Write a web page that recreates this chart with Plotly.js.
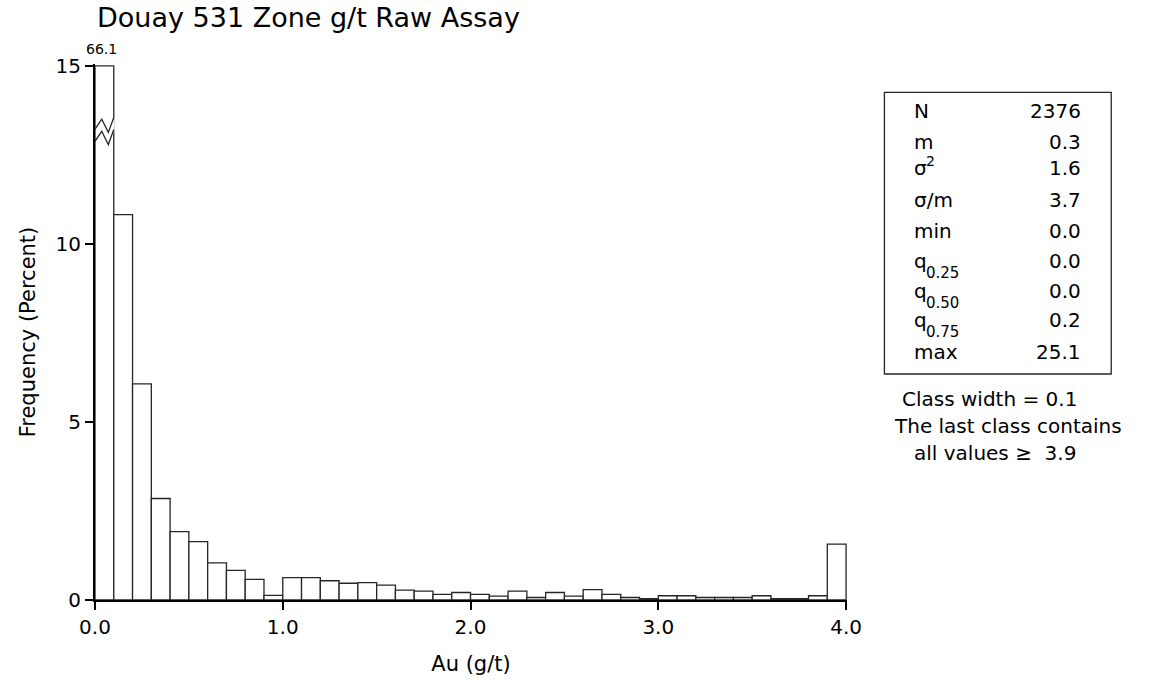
<!DOCTYPE html>
<html>
<head>
<meta charset="utf-8">
<script src="https://cdn.plot.ly/plotly-3.0.1.min.js"></script>
<style>html,body{margin:0;padding:0;background:#fff;}</style>
</head>
<body>
<div id="chart" style="width:1150px;height:683px;"></div>
<script>
// ---- data ----
const binStarts = [0.0,0.1,0.2,0.3,0.4,0.5,0.6,0.7,0.8,0.9,
                   1.0,1.1,1.2,1.3,1.4,1.5,1.6,1.7,1.8,1.9,
                   2.0,2.1,2.2,2.3,2.4,2.5,2.6,2.7,2.8,2.9,
                   3.0,3.1,3.2,3.3,3.4,3.5,3.6,3.7,3.8,3.9];
const freq = [66.1,10.82,6.07,2.85,1.92,1.64,1.04,0.83,0.58,0.13,
              0.63,0.63,0.54,0.47,0.49,0.42,0.28,0.25,0.16,0.21,
              0.16,0.11,0.25,0.07,0.21,0.11,0.29,0.16,0.07,0.04,
              0.12,0.12,0.07,0.07,0.07,0.12,0.04,0.04,0.12,1.57];
const binWidth = 0.1;
const yMax = 15;
const xTickVals = [0,1,2,3,4];
const xTickText = ['0.0','1.0','2.0','3.0','4.0'];
const yTickVals = [0,5,10,15];
const yTickText = ['0','5','10','15'];
const statLabels = ['N','m','σ','σ/m','min','q','q','q','max'];
const statSup    = ['','','2','','','','','',''];
const statSub    = ['','','','','','0.25','0.50','0.75',''];
const statValues = ['2376','0.3','1.6','3.7','0.0','0.0','0.0','0.2','25.1'];
const noteLines  = ['Class width = 0.1','The last class contains','all values ≥\u00a0 3.9'];
const titleText = 'Douay 531 Zone g/t Raw Assay';
const xTitle = 'Au (g/t)';
const yTitle = 'Frequency (Percent)';

// ---- layout helpers (pixel -> paper) ----
const FONT = 'DejaVu Sans';
const L = 95, T = 64, W = 751.6, H = 536;
const px = v => (v - L) / W;
const py = v => (T + H - v) / H;

const shown = freq.map(v => Math.min(v, yMax));
const centers = binStarts.map(s => s + binWidth / 2);

const bars = {
  type: 'bar', x: centers, y: shown, width: binWidth,
  marker: {color: '#ffffff', line: {color: '#262626', width: 1.3}},
  hoverinfo: 'skip', showlegend: false
};

// break symbol on clipped bar
const x0 = binStarts[0], x1 = binStarts[0] + binWidth;
const zig = [[0, 13.22], [0.36, 13.5], [0.71, 13.13], [1.0, 13.55]];
const gap = 0.34;
const up = zig.map(p => [x0 + p[0] * binWidth, p[1]]);
const lo = zig.map(p => [x0 + p[0] * binWidth, p[1] - gap]);
const pathOf = pts => 'M' + pts.map(p => p[0] + ',' + p[1]).join(' L');
const band = up.map((p, i) => [i === 0 ? p[0] + 0.008 : (i === up.length - 1 ? p[0] + 0.004 : p[0]), p[1] + 0.02])
  .concat(lo.slice().reverse().map((p, i) => [i === 0 ? p[0] + 0.004 : (i === lo.length - 1 ? p[0] + 0.008 : p[0]), p[1] - 0.02]));

const shapes = [
  {type: 'path', xref: 'x', yref: 'y', path: pathOf(band) + ' Z', fillcolor: '#ffffff', line: {width: 0}, layer: 'above'},
  {type: 'path', xref: 'x', yref: 'y', path: pathOf(up), line: {color: '#262626', width: 1.3}, layer: 'above'},
  {type: 'path', xref: 'x', yref: 'y', path: pathOf(lo), line: {color: '#262626', width: 1.3}, layer: 'above'},
  {type: 'rect', xref: 'paper', yref: 'paper', x0: px(884), x1: px(1110.7), y0: py(374), y1: py(92.3),
   line: {color: '#262626', width: 1.3}, fillcolor: 'rgba(0,0,0,0)'}
];

const rowBase = [118, 148.5, 175, 207.5, 238, 268, 297.5, 327, 358.5];
const ann = [];
const txt = (text, x, y, xa, size, extra) => Object.assign({
  text: text, x: x, y: y, xref: 'paper', yref: 'paper', xanchor: xa, yanchor: 'middle',
  showarrow: false, font: {family: FONT, size: size, color: '#000'}, borderpad: 0
}, extra || {});

statLabels.forEach((lab, i) => {
  const b = rowBase[i];
  ann.push(txt(lab, px(913), py(b - 7), 'left', 20));
  ann.push(txt(statValues[i], px(1081), py(b - 7), 'right', 20));
  if (statSup[i]) ann.push(txt(statSup[i], px(925), py(b - 14), 'left', 14));
  if (statSub[i]) ann.push(txt(statSub[i], px(925), py(b + 5), 'left', 15));
});
const noteX = [901, 893, 913], noteY = [398.8, 425.7, 452.6];
noteLines.forEach((t, i) => ann.push(txt(t, px(noteX[i]), py(noteY[i]), 'left', 20)));

// value of clipped bar
ann.push({text: freq[0].toFixed(1), x: centers[0], y: yMax, xref: 'x', yref: 'y',
  xanchor: 'center', yanchor: 'bottom', yshift: 7, xshift: -3, showarrow: false,
  font: {family: FONT, size: 14, color: '#000'}});

const layout = {
  width: 1150, height: 683,
  margin: {l: L, r: 1150 - L - W, t: T, b: 683 - T - H, pad: 0},
  paper_bgcolor: '#fff', plot_bgcolor: '#fff',
  font: {family: FONT, color: '#000'},
  bargap: 0, showlegend: false,
  title: {text: titleText, x: 97 / 1150, xref: 'container', xanchor: 'left',
          y: 1 - 18 / 683, yref: 'container', yanchor: 'middle',
          font: {family: FONT, size: 27, color: '#000'}},
  xaxis: {range: [0, 4.005], tickvals: xTickVals, ticktext: xTickText,
          ticks: 'outside', ticklen: 8, tickwidth: 2, tickcolor: '#000',
          showline: true, linewidth: 2, linecolor: '#000', mirror: false,
          showgrid: false, zeroline: false,
          tickfont: {family: FONT, size: 20, color: '#000'},
          title: {text: xTitle, font: {family: FONT, size: 21, color: '#000'}, standoff: 18}},
  yaxis: {range: [0, 15.05], tickvals: yTickVals, ticktext: yTickText,
          ticks: 'outside', ticklen: 8, tickwidth: 2, tickcolor: '#000',
          showline: true, linewidth: 2, linecolor: '#000',
          showgrid: false, zeroline: false,
          tickfont: {family: FONT, size: 20, color: '#000'},
          title: {text: yTitle, font: {family: FONT, size: 21, color: '#000'}, standoff: 14}},
  shapes: shapes,
  annotations: ann
};

Plotly.newPlot('chart', [bars], layout, {staticPlot: true, displayModeBar: false});
</script>
</body>
</html>
